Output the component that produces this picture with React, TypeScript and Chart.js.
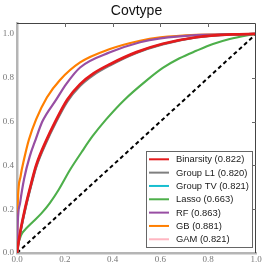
import { useEffect, useRef } from 'react';
import { Chart, registerables } from 'chart.js';

Chart.register(...registerables);

const chartTitle = 'Covtype';
const seriesNames = ['Binarsity', 'Group L1', 'Group TV', 'Lasso', 'RF', 'GB', 'GAM'];
const aucScores = [0.822, 0.82, 0.821, 0.663, 0.863, 0.881, 0.821];
const seriesColors = ['#e41a1c', '#7f7f7f', '#17becf', '#4daf4a', '#984ea3', '#ff7f00', '#ffb6c1'];
const seriesWidths = [2.7, 2.2, 2.2, 2.1, 2.2, 2.2, 2.2];

const axisTicks = [0, 0.2, 0.4, 0.6, 0.8, 1.0];

const linearFpr = [0, 0.005, 0.015, 0.035, 0.06, 0.08, 0.124, 0.16, 0.21, 0.264, 0.32, 0.389, 0.5, 0.61, 0.75, 0.9, 1];
const binarsityTpr = [0, 0.04, 0.105, 0.21, 0.32, 0.4, 0.518, 0.6, 0.7, 0.771, 0.82, 0.862, 0.917, 0.955, 0.985, 0.998, 1];
const groupL1Tpr = [0, 0.035, 0.098, 0.2, 0.31, 0.39, 0.508, 0.59, 0.69, 0.762, 0.812, 0.856, 0.913, 0.952, 0.984, 0.998, 1];
const groupTvTpr = [0, 0.038, 0.1, 0.205, 0.315, 0.395, 0.513, 0.595, 0.695, 0.767, 0.816, 0.859, 0.915, 0.954, 0.985, 0.998, 1];
const gamTpr = [0, 0.04, 0.104, 0.208, 0.318, 0.398, 0.516, 0.598, 0.698, 0.769, 0.818, 0.86, 0.916, 0.954, 0.985, 0.998, 1];

const lassoFpr = [0, 0.005, 0.013, 0.022, 0.04, 0.068, 0.103, 0.138, 0.175, 0.222, 0.27, 0.316, 0.373, 0.45, 0.54, 0.61, 0.68, 0.75, 0.82, 0.89, 0.96, 1];
const lassoTpr = [0, 0.04, 0.069, 0.091, 0.114, 0.144, 0.182, 0.229, 0.29, 0.38, 0.46, 0.533, 0.61, 0.7, 0.786, 0.845, 0.889, 0.923, 0.954, 0.977, 0.993, 1];

const rfFpr = [0, 0.003, 0.013, 0.03, 0.053, 0.078, 0.106, 0.164, 0.205, 0.264, 0.389, 0.515, 0.6, 0.75, 0.9, 1];
const rfTpr = [0, 0.137, 0.229, 0.34, 0.44, 0.518, 0.6, 0.7, 0.77, 0.847, 0.916, 0.962, 0.98, 0.995, 0.999, 1];

const gbFpr = [0, 0.001, 0.004, 0.015, 0.03, 0.05, 0.08, 0.125, 0.18, 0.264, 0.389, 0.515, 0.6, 0.75, 0.9, 1];
const gbTpr = [0, 0.12, 0.25, 0.35, 0.43, 0.518, 0.61, 0.71, 0.79, 0.87, 0.931, 0.969, 0.984, 0.996, 0.999, 1];

const chanceFpr = [0, 1];
const chanceTpr = [0, 1];

const seriesFpr = [linearFpr, linearFpr, linearFpr, lassoFpr, rfFpr, gbFpr, linearFpr];
const seriesTpr = [binarsityTpr, groupL1Tpr, groupTvTpr, lassoTpr, rfTpr, gbTpr, gamTpr];

const toPoints = (xs: number[], ys: number[]) => xs.map((x, i) => ({ x, y: ys[i] }));

const titlePlugin = {
  id: 'plainTitle',
  afterDraw(chart: any) {
    const { ctx, chartArea } = chart;
    ctx.save();
    ctx.font = '14px "Liberation Sans", Arial, sans-serif';
    ctx.fillStyle = '#111';
    ctx.textAlign = 'center';
    ctx.textBaseline = 'alphabetic';
    ctx.fillText(chartTitle, (chartArea.left + chartArea.right) / 2, 15);
    ctx.restore();
  },
};

const framePlugin = {
  id: 'frame',
  afterDatasetsDraw(chart: any) {
    const { ctx, chartArea, scales } = chart;
    const { left, right, top, bottom } = chartArea;
    ctx.save();
    ctx.strokeStyle = '#444';
    ctx.lineWidth = 1;
    ctx.beginPath();
    ctx.moveTo(left, top + 0.5);
    ctx.lineTo(right - 0.5, top + 0.5);
    ctx.lineTo(right - 0.5, bottom);
    ctx.stroke();
    ctx.strokeStyle = '#666';
    ctx.beginPath();
    axisTicks.slice(1, -1).forEach((v) => {
      const x = Math.round(scales.x.getPixelForValue(v)) + 0.5;
      ctx.moveTo(x, top);
      ctx.lineTo(x, top + 4);
      const y = Math.round(scales.y.getPixelForValue(v)) + 0.5;
      ctx.moveTo(right, y);
      ctx.lineTo(right - 4, y);
    });
    ctx.stroke();
    ctx.restore();
  },
};

const legendPlugin = {
  id: 'boxLegend',
  afterDraw(chart: any) {
    const { ctx, chartArea } = chart;
    const boxW = 107;
    const boxH = 97;
    const rowH = 13.33;
    const x0 = Math.round(chartArea.right - 3 - boxW);
    const y0 = Math.round(chartArea.bottom - 5 - boxH);
    ctx.save();
    ctx.fillStyle = 'rgba(255,255,255,0.92)';
    ctx.fillRect(x0, y0, boxW, boxH);
    ctx.strokeStyle = '#666';
    ctx.lineWidth = 1;
    ctx.strokeRect(x0 + 0.5, y0 + 0.5, boxW - 1, boxH - 1);
    ctx.font = '9.4px "Liberation Sans", Arial, sans-serif';
    ctx.textBaseline = 'middle';
    ctx.textAlign = 'left';
    seriesNames.forEach((name, i) => {
      const y = y0 + 8.3 + i * rowH;
      ctx.strokeStyle = seriesColors[i];
      ctx.lineWidth = 2;
      ctx.beginPath();
      ctx.moveTo(x0 + 3, y);
      ctx.lineTo(x0 + 23, y);
      ctx.stroke();
      ctx.fillStyle = '#1a1a1a';
      ctx.fillText(`${name} (${aucScores[i].toFixed(3)})`, x0 + 30, y + 0.5);
    });
    ctx.restore();
  },
};

export default function App() {
  const canvasRef = useRef<HTMLCanvasElement | null>(null);

  useEffect(() => {
    if (!canvasRef.current) return;
    const datasets: any[] = seriesNames.map((name, i) => ({
      label: name,
      data: toPoints(seriesFpr[i], seriesTpr[i]),
      borderColor: seriesColors[i],
      backgroundColor: seriesColors[i],
      borderWidth: seriesWidths[i],
      showLine: true,
      pointRadius: 0,
      fill: false,
      cubicInterpolationMode: 'monotone',
    }));
    datasets.push({
      label: 'chance',
      data: toPoints(chanceFpr, chanceTpr),
      borderColor: '#000',
      borderWidth: 2,
      borderDash: [4, 3],
      showLine: true,
      pointRadius: 0,
      fill: false,
    });

    const tickFont = { family: '"Liberation Serif", "DejaVu Serif", serif', size: 9 };
    const chart = new Chart(canvasRef.current, {
      type: 'scatter',
      data: { datasets },
      plugins: [titlePlugin, framePlugin, legendPlugin],
      options: {
        animation: false,
        responsive: false,
        events: [],
        layout: { padding: { top: 23, right: 10, left: 0, bottom: 0 } },
        plugins: { legend: { display: false }, tooltip: { enabled: false }, title: { display: false } },
        scales: {
          x: {
            type: 'linear',
            min: 0,
            max: 1,
            afterFit: (s: any) => { s.height = 14; },
            afterBuildTicks: (s: any) => { s.ticks = axisTicks.map((v) => ({ value: v })); },
            ticks: { font: tickFont, color: '#777', padding: 1, callback: (v: any) => Number(v).toFixed(1), maxRotation: 0, autoSkip: false },
            grid: { display: false, drawTicks: false },
            border: { display: true, color: '#b5b5b5', width: 2.5 },
          },
          y: {
            type: 'linear',
            min: 0,
            max: 1.05,
            afterFit: (s: any) => { s.width = 17; },
            afterBuildTicks: (s: any) => { s.ticks = axisTicks.map((v) => ({ value: v })); },
            ticks: { font: tickFont, color: '#777', padding: 3, callback: (v: any) => Number(v).toFixed(1), autoSkip: false },
            grid: { display: false, drawTicks: false },
            border: { display: true, color: '#b5b5b5', width: 2.5 },
          },
        },
      } as any,
    });
    return () => chart.destroy();
  }, []);

  return (
    <div style={{ position: 'fixed', left: 0, top: 0, width: 266, height: 267, background: '#fff' }}>
      <canvas ref={canvasRef} width={266} height={267} style={{ width: 266, height: 267, display: 'block' }} />
    </div>
  );
}
